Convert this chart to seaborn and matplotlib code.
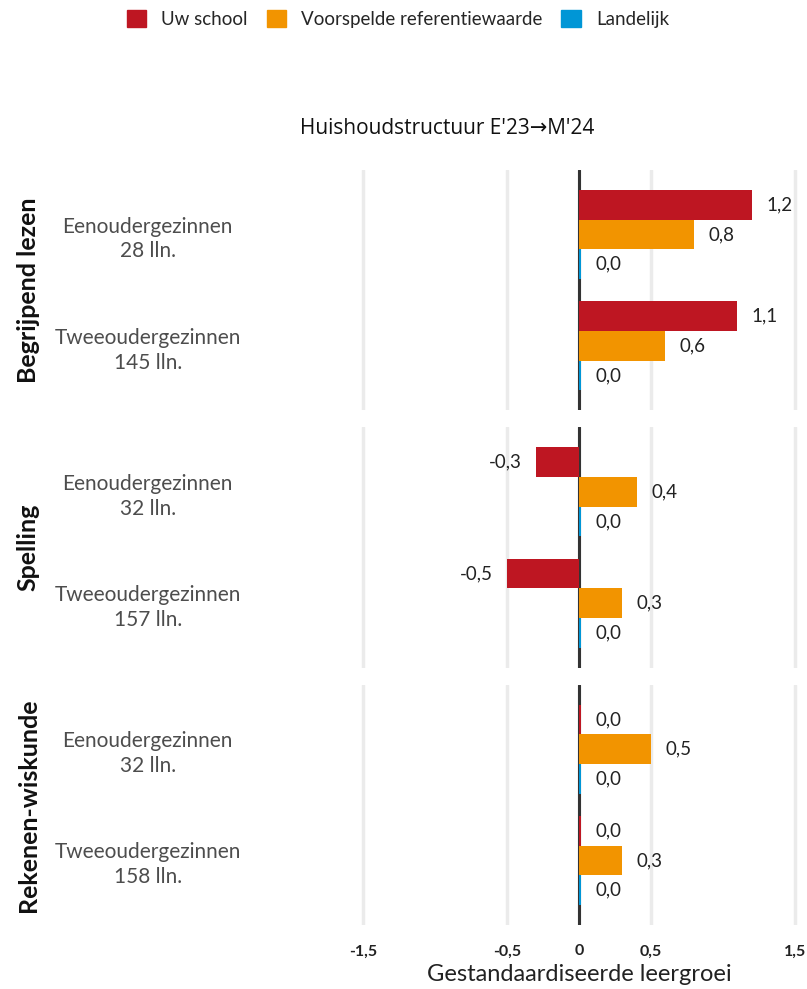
import matplotlib
matplotlib.use("Agg")
import matplotlib.pyplot as plt
import matplotlib.patches as mpatches
import seaborn as sns
import pandas as pd

sns.set_style("white")
plt.rcParams['font.family'] = ['Lato', 'DejaVu Sans']

# ---- data ----
subjects = ["Begrijpend lezen", "Spelling", "Rekenen-wiskunde"]
groups = ["Eenoudergezinnen", "Tweeoudergezinnen"]
n_students = [[28, 145], [32, 157], [32, 158]]
series = ["Uw school", "Voorspelde referentiewaarde", "Landelijk"]
# values per subject: [group][series]
uw_school = [[1.2, 1.1], [-0.3, -0.5], [0.015, 0.015]]
voorspeld = [[0.8, 0.6], [0.4, 0.3], [0.5, 0.3]]
landelijk = [[0.015, 0.015], [0.015, 0.015], [0.015, 0.015]]
x_ticks = [-1.5, -0.5, 0, 0.5, 1.5]
x_ticklabels = ["-1,5", "-0,5", "0", "0,5", "1,5"]
colors = ["#BE1622", "#F29400", "#0096D6"]
title = "Huishoudstructuur E'23\u2192M'24"
xlabel = "Gestandaardiseerde leergroei"

W, H = 807, 989
fig = plt.figure(figsize=(W / 100, H / 100), dpi=100)
gs = fig.add_gridspec(3, 1, left=356 / W, right=802 / W,
                      top=1 - 170 / H, bottom=1 - 925 / H, hspace=0.07)

for i, subj in enumerate(subjects):
    ax = fig.add_subplot(gs[i, 0])
    rows = []
    for g_idx, g in enumerate(groups):
        lab = f"{g}\n{n_students[i][g_idx]} lln."
        for s, vals in zip(series, [uw_school, voorspeld, landelijk]):
            rows.append({"group": lab, "series": s, "value": vals[i][g_idx]})
    df = pd.DataFrame(rows)
    ax.axvline(0, color="#333333", linewidth=2.2, zorder=1.5)
    sns.barplot(data=df, y="group", x="value", hue="series", hue_order=series,
                palette=colors, orient="h", width=0.8, ax=ax, legend=False,
                saturation=1, errorbar=None, linewidth=0, edgecolor="none")
    for cont in ax.containers:
        for b in cont:
            b.set_zorder(2)
        labels = [f"{b.get_width():.1f}".replace(".", ",").replace("-0,0", "0,0")
                  for b in cont]
        ax.bar_label(cont, labels=labels, padding=10.5, fontsize=13.5,
                     color="#222222")
    ax.set_xlim(-1.55, 1.55)
    ax.set_ylim(1.58, -0.58)
    ax.set_xticks(x_ticks)
    ax.grid(axis="x", color="#EBEBEB", linewidth=2.5)
    ax.grid(axis="y", visible=False)
    ax.set_axisbelow(True)
    for sp in ax.spines.values():
        sp.set_visible(False)
    ax.set_ylabel("")
    ax.set_xlabel("")
    ax.tick_params(axis="y", length=0, pad=150, labelsize=15, labelcolor="#4D4D4D")
    for lbl in ax.get_yticklabels():
        lbl.set_horizontalalignment("center")
        lbl.set_multialignment("center")
        lbl.set_linespacing(1.3)
    if i < 2:
        ax.tick_params(axis="x", length=0, labelbottom=False)
    else:
        ax.set_xticklabels(x_ticklabels)
        ax.tick_params(axis="x", length=0, pad=14, labelsize=11.5, labelcolor="#222222")
        for lbl in ax.get_xticklabels():
            lbl.set_fontweight("bold")
        ax.set_xlabel(xlabel, fontsize=17, color="#222222", labelpad=4)
    # facet label
    pos = ax.get_position()
    fig.text(28 / W, (pos.y0 + pos.y1) / 2, subj, rotation=90, ha="center",
             va="center", fontsize=18, fontweight="bold", color="#111111")

fig.text(447 / W, 1 - 128 / H, title, ha="center", va="center", fontsize=15,
         family=["Open Sans", "DejaVu Sans"], color="#111111")

handles = [mpatches.Patch(color=c, label=s) for c, s in zip(colors, series)]
fig.legend(handles=handles, loc="center", bbox_to_anchor=(398 / W, 1 - 19 / H),
           ncol=3, frameon=False, handlelength=1.05, handleheight=1.05,
           handletextpad=0.8, columnspacing=1.0, prop={"size": 13.5})

fig.savefig("out.png", dpi=100)
